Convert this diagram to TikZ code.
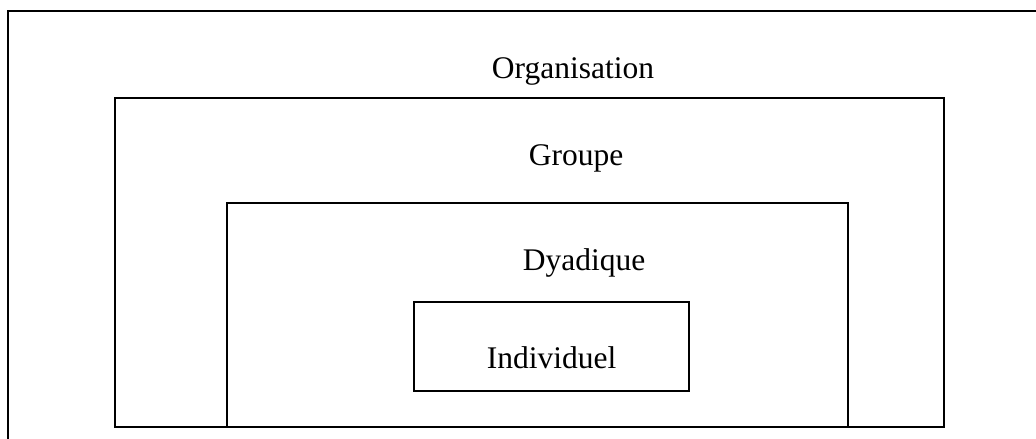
\documentclass[tikz,border=0pt]{standalone}
\usepackage{fontspec}
\setmainfont{Liberation Serif}
\usepackage{tikz}
\usetikzlibrary{positioning}
\tikzstyle{level} = [rectangle, draw=black, line width=1.3pt, inner sep=0pt]
\tikzstyle{label} = [inner sep=0pt, anchor=base, font=\fontsize{31.5}{36}\selectfont]

\begin{document}
\begin{tikzpicture}[x=1pt,y=-1pt]
	\useasboundingbox (0,0) rectangle (1036,439);
	\clip (0,0) rectangle (1036,439);
	\coordinate (organisation) at (528,231);
	\coordinate (groupe) at (529.5,262.5);
	\coordinate (dyadique) at (537.5,315);
	\coordinate (individuel) at (551.5,346.5);
	% Levels
	\node[level, name=organisation, minimum width=1040pt, minimum height=440pt] at (organisation) {};
	\node[level, name=groupe, minimum width=829pt, minimum height=329pt] at (groupe) {};
	\node[level, name=dyadique, minimum width=621pt, minimum height=224pt] at (dyadique) {};
	\node[level, name=individuel, minimum width=275pt, minimum height=89pt] at (individuel) {};
	% Labels
	\node[label, name=orglabel] at (573,78) {Organisation};
	\node[label, name=grplabel] at (576,165) {Groupe};
	\node[label, name=dyalabel] at (584,270) {Dyadique};
	\node[label, name=indlabel] at (551.5,368) {Individuel};
\end{tikzpicture}
\end{document}
